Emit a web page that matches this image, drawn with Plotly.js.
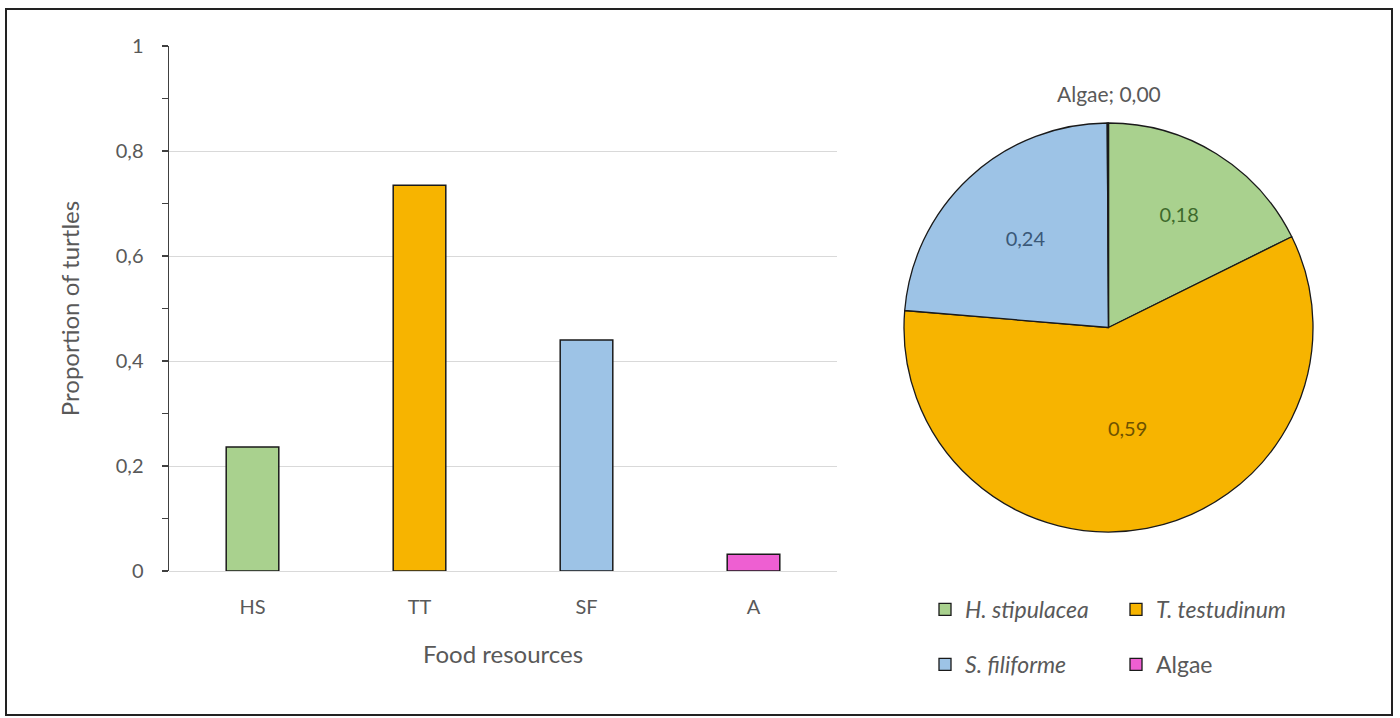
<!DOCTYPE html>
<html>
<head>
<meta charset="utf-8">
<script src="https://cdn.plot.ly/plotly-3.0.1.min.js"></script>
<style>html,body{margin:0;padding:0;background:#fff;}#chart{width:1400px;height:718px;}</style>
</head>
<body>
<div id="chart"></div>
<script>
// Bar chart data
const barCategories = ['HS', 'TT', 'SF', 'A'];
const barValues = [0.236, 0.735, 0.440, 0.032];
const barColors = ['#A9D18E', '#F7B400', '#9DC3E6', '#EE5FD2'];

// Pie chart data
const pieNames = ['H. stipulacea', 'T. testudinum', 'S. filiforme', 'Algae'];
const pieItalic = [true, true, true, false];
const pieValues = [0.177, 0.587, 0.236, 0.001];
const pieColors = ['#A9D18E', '#F7B400', '#9DC3E6', '#EE5FD2'];
const pieTextColors = ['#3E6A2C', '#6E5200', '#3A5878', '#595959'];
const pieLegendRow = ['legend', 'legend', 'legend2', 'legend2'];

const FONT = 'Lato, "Noto Sans", sans-serif';
const GREY = '#595959';
const fmt = v => v.toFixed(2).replace('.', ',');
const pieLabels = pieNames.map((n, i) => pieItalic[i] ? '<i>' + n + '</i>' : n);

const bar = {
  type: 'bar',
  x: barCategories,
  y: barValues,
  marker: {color: barColors, line: {color: '#1a1a1a', width: 1.5}},
  width: 0.315,
  showlegend: false,
  hoverinfo: 'x+y'
};

const pie = {
  type: 'pie',
  labels: pieLabels,
  values: pieValues,
  sort: false,
  direction: 'clockwise',
  rotation: 0,
  marker: {colors: pieColors, line: {color: '#1a1a1a', width: 1.3}},
  texttemplate: '%{value:.2f}',
  textposition: ['inside', 'inside', 'inside', 'none'],
  insidetextorientation: 'horizontal',
  textfont: {family: FONT, size: 20, color: pieTextColors},
  domain: {x: [904/1400, 1313/1400], y: [1 - 532/718, 1 - 123/718]},
  automargin: false,
  showlegend: false,
  hoverinfo: 'label+value'
};

// Legend entries for the pie (2 rows x 2 columns)
const legendTraces = pieLabels.map((lab, i) => ({
  type: 'bar',
  x: [null], y: [null],
  xaxis: 'x2', yaxis: 'y2',
  name: lab,
  marker: {color: pieColors[i], line: {color: '#1a1a1a', width: 1.3}},
  legend: pieLegendRow[i],
  showlegend: true,
  hoverinfo: 'skip'
}));

const legendCommon = {
  orientation: 'h',
  x: 925/1400,
  xanchor: 'left',
  yanchor: 'top',
  font: {family: FONT, size: 23, color: GREY},
  entrywidth: 146,
  entrywidthmode: 'pixels',
  itemwidth: 30,
  bgcolor: 'rgba(0,0,0,0)',
  traceorder: 'normal'
};

const layout = {
  width: 1400,
  height: 718,
  margin: {l: 0, r: 0, t: 0, b: 0},
  paper_bgcolor: '#ffffff',
  plot_bgcolor: '#ffffff',
  separators: ',.',
  font: {family: FONT, color: GREY, size: 20},
  xaxis: {
    domain: [169/1400, 837/1400],
    type: 'category',
    range: [-0.5, 3.5],
    showline: false,
    showgrid: false,
    ticks: '',
    ticklabelstandoff: 22,
    tickfont: {family: FONT, size: 20, color: GREY},
    title: {text: 'Food resources', font: {family: FONT, size: 24, color: GREY}, standoff: 29},
    fixedrange: true
  },
  yaxis: {
    domain: [1 - 571/718, 1 - 46/718],
    range: [0, 1],
    dtick: 0.2,
    showline: true,
    linecolor: '#404040',
    linewidth: 1.5,
    ticks: 'outside',
    ticklen: 6,
    tickcolor: '#404040',
    tickwidth: 1.5,
    ticklabelstandoff: 14,
    minor: {dtick: 0.1, ticks: 'outside', ticklen: 6, tickcolor: '#404040', tickwidth: 1.5, showgrid: false},
    showgrid: true,
    gridcolor: '#D9D9D9',
    gridwidth: 1,
    zeroline: true,
    zerolinecolor: '#D9D9D9',
    zerolinewidth: 1,
    tickfont: {family: FONT, size: 20, color: GREY},
    title: {text: 'Proportion of turtles', font: {family: FONT, size: 24, color: GREY}, standoff: 29},
    fixedrange: true
  },
  xaxis2: {visible: false, domain: [0, 0.001], anchor: 'y2', fixedrange: true},
  yaxis2: {visible: false, domain: [0, 0.001], anchor: 'x2', fixedrange: true},
  showlegend: true,
  legend: Object.assign({}, legendCommon, {y: 1 - 588/718}),
  legend2: Object.assign({}, legendCommon, {y: 1 - 643/718}),
  annotations: [{
    xref: 'paper', yref: 'paper',
    x: (904 + 1313) / 2 / 1400, y: 1 - 93/718,
    xanchor: 'center', yanchor: 'middle',
    text: pieNames[3] + '; ' + fmt(pieValues[3]),
    showarrow: false,
    font: {family: FONT, size: 21, color: GREY}
  }],
  shapes: [{
    type: 'rect', xref: 'paper', yref: 'paper',
    x0: 6/1400, x1: 1392/1400, y0: 1 - 715/718, y1: 1 - 9/718,
    line: {color: '#222222', width: 2}, fillcolor: 'rgba(0,0,0,0)', layer: 'below'
  }]
};

Plotly.newPlot('chart', [bar, pie].concat(legendTraces), layout, {displayModeBar: false, staticPlot: true});
</script>
</body>
</html>
